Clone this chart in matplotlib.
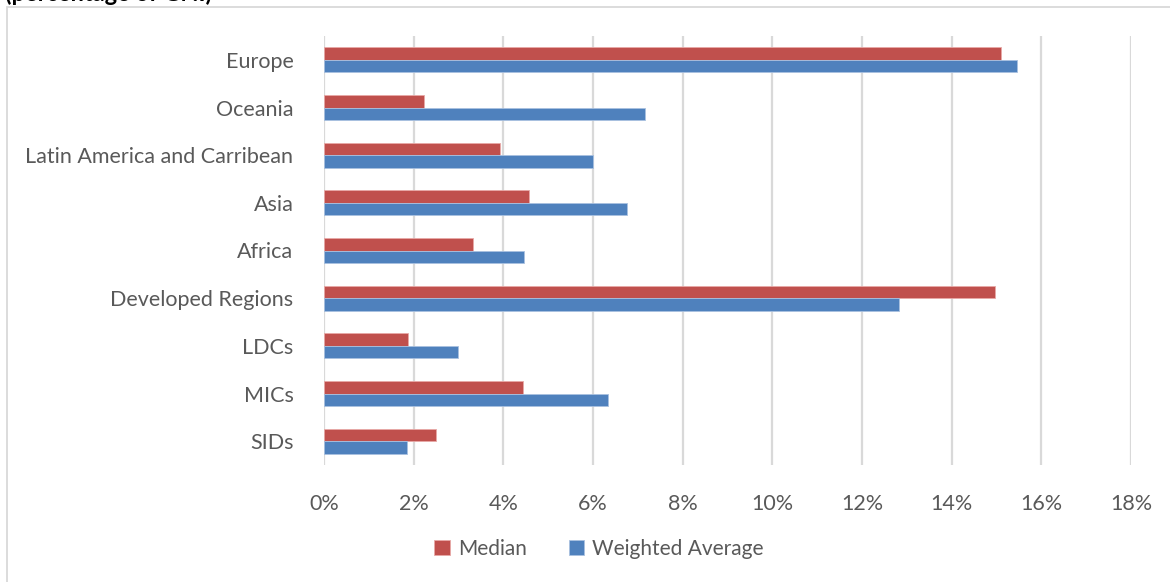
import matplotlib
matplotlib.use('Agg')
import matplotlib.pyplot as plt
import matplotlib.patches as mpatches
from matplotlib.ticker import FuncFormatter
import numpy as np

# ── Datos ────────────────────────────────────────────────────
regiones = ['Europe', 'Oceania', 'Latin America and Carribean', 'Asia', 'Africa',
            'Developed Regions', 'LDCs', 'MICs', 'SIDs']
mediana = [15.10, 2.24, 3.93, 4.57, 3.32, 14.97, 1.87, 4.43, 2.50]
promedio_ponderado = [15.46, 7.15, 5.99, 6.76, 4.47, 12.82, 2.98, 6.34, 1.85]
ticks_x = [0, 2, 4, 6, 8, 10, 12, 14, 16, 18]

ROJO = '#C0504D'
AZUL = '#4F81BD'
GRIS_TXT = '#595959'
GRIS_LINEA = '#D9D9D9'

plt.rcParams['font.family'] = ['Lato', 'DejaVu Sans']

fig = plt.figure(figsize=(11.7, 5.82), dpi=100)
fig.patch.set_facecolor('white')

# marco del gráfico (cortado a la derecha y abajo)
marco = mpatches.Rectangle((7 / 1170, -0.2), 1.2, 1.2 - 7 / 582,
                           transform=fig.transFigure, fill=False,
                           edgecolor=GRIS_LINEA, linewidth=1.3)
fig.patches.append(marco)

# título cortado arriba (como en el original)
fig.text(5 / 1170, 1.0 + 7 / 582, '(percentage of GNI)', ha='left', va='center',
         fontsize=17, fontweight='bold', color='black')

ax = fig.add_axes([324 / 1170, 1 - 465 / 582, (1131 - 324) / 1170, (465 - 36) / 582])

y = np.arange(len(regiones))
h = 0.265
ax.barh(y - h / 2, mediana, height=h, color=ROJO, edgecolor='#E8A9A7',
        linewidth=0.6, label='Median', zorder=3)
ax.barh(y + h / 2, promedio_ponderado, height=h, color=AZUL, edgecolor='#A9C1E0',
        linewidth=0.6, label='Weighted Average', zorder=3)

ax.set_ylim(len(regiones) - 0.5, -0.5)
ax.set_xlim(0, 18)
ax.set_xticks(ticks_x)
ax.xaxis.set_major_formatter(FuncFormatter(lambda v, p: f'{v:.0f}%'))
ax.set_yticks(y)
ax.set_yticklabels(regiones)
ax.tick_params(axis='both', length=0, colors=GRIS_TXT)
ax.tick_params(axis='y', pad=22, labelsize=15.5)
ax.tick_params(axis='x', pad=21, labelsize=15.5)

ax.grid(axis='x', color=GRIS_LINEA, linewidth=1.6, zorder=0)
for s in ax.spines.values():
    s.set_visible(False)

fig.legend(loc='center', bbox_to_anchor=(599 / 1170, 1 - 549 / 582), ncol=2,
           frameon=False, fontsize=15, labelcolor=GRIS_TXT,
           handlelength=0.75, handleheight=0.75, handletextpad=0.4,
           columnspacing=2.0)

plt.savefig('out.png', dpi=100, facecolor='white')
